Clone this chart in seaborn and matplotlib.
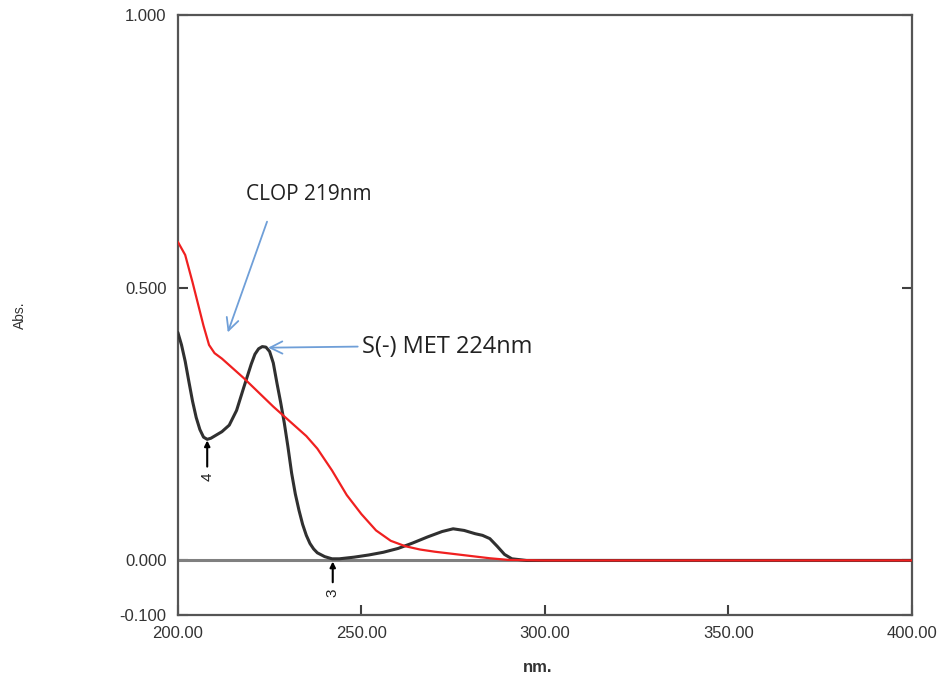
import matplotlib
matplotlib.use("Agg")
import matplotlib.pyplot as plt
import seaborn as sns
import numpy as np
import pandas as pd

# Data
met_nm = [200, 201, 202, 203, 204, 205, 206, 207, 208, 209, 210, 212, 214, 216, 218, 220, 221, 222, 223, 224,
          225, 226, 227, 228, 229, 230, 231, 232, 233, 234, 235, 236, 237, 238, 240, 242, 244, 248, 252, 256,
          260, 264, 268, 272, 275, 278, 281, 283, 285, 287, 289, 291, 295, 300, 350, 400]
met_abs = [0.418, 0.395, 0.365, 0.328, 0.292, 0.262, 0.240, 0.226, 0.222, 0.224, 0.228, 0.236, 0.248, 0.275,
           0.318, 0.360, 0.378, 0.388, 0.392, 0.391, 0.383, 0.362, 0.325, 0.290, 0.252, 0.208, 0.160, 0.122,
           0.092, 0.066, 0.046, 0.031, 0.021, 0.014, 0.007, 0.003, 0.003, 0.006, 0.010, 0.015, 0.022, 0.032,
           0.043, 0.053, 0.058, 0.055, 0.049, 0.046, 0.040, 0.026, 0.011, 0.003, 0.000, 0.000, 0.000, 0.000]
clop_nm = [200, 202, 204, 205.5, 207, 208.5, 210, 212, 215, 218, 222, 226, 229, 232, 235, 238, 242, 246,
           250, 254, 258, 262, 266, 270, 275, 280, 285, 290, 300, 350, 400]
clop_abs = [0.584, 0.560, 0.510, 0.470, 0.430, 0.395, 0.380, 0.370, 0.352, 0.334, 0.308, 0.282, 0.264, 0.246,
            0.228, 0.205, 0.165, 0.120, 0.085, 0.055, 0.036, 0.026, 0.020, 0.016, 0.012, 0.008, 0.004, 0.001,
            0.000, 0.000, 0.000]

x_ticks = [200, 250, 300, 350, 400]
x_labels = ["200.00", "250.00", "300.00", "350.00", "400.00"]
y_ticks = [-0.1, 0.0, 0.5, 1.0]
y_labels = ["-0.100", "0.000", "0.500", "1.000"]

sns.set_theme(style="white")
plt.rcParams['font.family'] = ['Liberation Sans', 'DejaVu Sans']

fig = plt.figure(figsize=(9.46, 6.75), dpi=100)
ax = fig.add_axes([0.188, 0.0889, 0.776, 0.889])

# zero baseline
ax.axhline(0, color="#808080", lw=2.2, zorder=1)

df_met = pd.DataFrame({"nm": met_nm, "abs": met_abs})
df_clop = pd.DataFrame({"nm": clop_nm, "abs": clop_abs})
sns.lineplot(data=df_met, x="nm", y="abs", ax=ax, color="#303030", lw=2.2, zorder=3)
sns.lineplot(data=df_clop, x="nm", y="abs", ax=ax, color="#f02020", lw=1.6, zorder=4)

ax.set_xlim(200, 400)
ax.set_ylim(-0.1, 1.0)
ax.set_xticks(x_ticks)
ax.set_xticklabels(x_labels)
ax.set_yticks(y_ticks)
ax.set_yticklabels(y_labels)
ax.tick_params(axis="both", direction="in", length=7, width=1.5, color="#404040",
               labelsize=12, labelcolor="#333333", pad=8)
ax.tick_params(axis="y", right=True, left=True)
ax.tick_params(axis="x", bottom=True)
for s in ax.spines.values():
    s.set_color("#555555")
    s.set_linewidth(1.6)

ax.set_xlabel("nm.", fontsize=12, color="#333333", labelpad=6, fontweight="bold")
ax.set_ylabel("Abs.", fontsize=10, color="#333333", labelpad=0)
ax.yaxis.set_label_coords(-0.205, 0.5)
ax.xaxis.set_label_coords(0.49, -0.075)

# peak markers
ax.annotate("", xy=(208.0, 0.220), xytext=(208.0, 0.172),
            arrowprops=dict(arrowstyle="-|>", color="black", lw=1.5, mutation_scale=8,
                            shrinkA=0, shrinkB=0))
ax.text(208.0, 0.162, "4", rotation=90, ha="center", va="top", fontsize=11, color="#222222")
ax.annotate("", xy=(242.2, -0.002), xytext=(242.2, -0.040),
            arrowprops=dict(arrowstyle="-|>", color="black", lw=1.5, mutation_scale=8,
                            shrinkA=0, shrinkB=0))
ax.text(242.2, -0.052, "3", rotation=90, ha="center", va="top", fontsize=11, color="#222222")

# text annotations
blue = "#6f9fd8"
txtfam = ["Open Sans", "DejaVu Sans"]
ax.text(218.5, 0.67, "CLOP 219nm", fontsize=15, color="#222222", family=txtfam,
        ha="left", va="center")
ax.text(250.3, 0.392, "S(-) MET 224nm", fontsize=17, color="#222222", family=txtfam,
        ha="left", va="center")
ax.annotate("", xy=(213.6, 0.418), xytext=(224.3, 0.621),
            arrowprops=dict(arrowstyle="->", color=blue, lw=1.3, mutation_scale=22,
                            shrinkA=0, shrinkB=0))
ax.annotate("", xy=(224.6, 0.390), xytext=(249.0, 0.392),
            arrowprops=dict(arrowstyle="->", color=blue, lw=1.3, mutation_scale=22,
                            shrinkA=0, shrinkB=0))

fig.savefig("out.png", dpi=100)
